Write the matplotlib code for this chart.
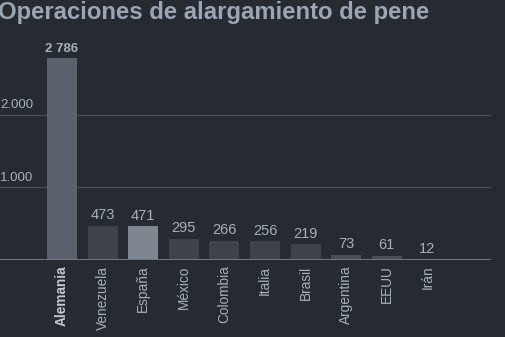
import matplotlib.pyplot as plt
import numpy as np

plt.rcParams['font.family'] = ['Liberation Sans', 'DejaVu Sans']

paises = ["Alemania", "Venezuela", "España", "México", "Colombia",
          "Italia", "Brasil", "Argentina", "EEUU", "Irán"]
operaciones = [2786, 473, 471, 295, 266, 256, 219, 73, 61, 12]
etiquetas = ["2 786", "473", "471", "295", "266", "256", "219", "73", "61", "12"]
yticks = [1000, 2000]
ytick_labels = ["1.000", "2.000"]

bg = "#262a31"
text_col = "#a7b0ba"

fig = plt.figure(figsize=(5.06, 3.37), dpi=100, facecolor=bg)
ax = fig.add_axes([0, (337 - 260) / 337, 491 / 506, (260 - 58) / 337 * 3000 / 2786])
ax.set_facecolor(bg)

colores = ["#3e4249"] * len(paises)
colores[0] = "#5b616a"
colores[2] = "#7e868f"
colores[7] = "#494d55"
colores[8] = "#494d55"

x = np.arange(len(paises))
ax.bar(x, operaciones, width=0.74, color=colores, zorder=2)

for i, (v, lab) in enumerate(zip(operaciones, etiquetas)):
    ax.text(i, v + 45, lab, ha="center", va="bottom", color=text_col,
            fontsize=10.5 if i else 9.5, fontweight="bold" if i == 0 else "normal")

ax.set_xlim(-62 / 40.6, (491 - 62) / 40.6)
ax.set_ylim(0, 3000)

for yv, yl in zip(yticks, ytick_labels):
    ax.axhline(yv, color="#4a4f57", linewidth=0.9, zorder=1)
    ax.text(0.0, yv + 50, yl, transform=ax.get_yaxis_transform(),
            ha="left", va="bottom", color=text_col, fontsize=9.5)
ax.axhline(0, color="#6f757d", linewidth=1.5, zorder=3)

ax.set_xticks(x)
ax.set_xticklabels(paises, rotation=90, fontsize=9.8, color=text_col)
ax.get_xticklabels()[0].set_fontweight("bold")
ax.get_xticklabels()[0].set_color("#c3cad2")
ax.tick_params(axis="x", length=0, pad=4)
ax.set_yticks([])
for s in ax.spines.values():
    s.set_visible(False)

fig.text(-0.003, 0.998, "Operaciones de alargamiento de pene", ha="left", va="top",
         fontsize=17.2, fontweight="bold", color="#9ba6b2")

fig.savefig("out.png", dpi=100, facecolor=bg)
